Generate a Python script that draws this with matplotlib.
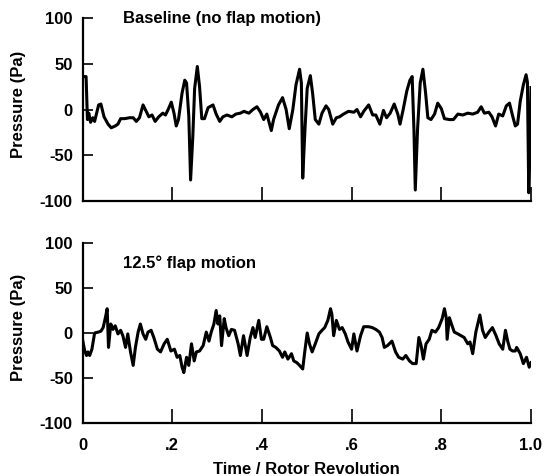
import matplotlib
matplotlib.use("Agg")
import matplotlib.pyplot as plt

plt.rcParams['font.family'] = ['Liberation Sans', 'DejaVu Sans']
plt.rcParams['font.weight'] = 'bold'

# ---- data ----
t_base = [0.0, 0.008, 0.011, 0.014, 0.018, 0.023, 0.027, 0.036, 0.041, 0.048, 0.057, 0.064,
          0.073, 0.079, 0.085, 0.094, 0.105, 0.113, 0.120, 0.127, 0.135, 0.142, 0.148, 0.155,
          0.162, 0.170, 0.179, 0.185, 0.191, 0.198, 0.204, 0.209, 0.214, 0.222, 0.228, 0.232,
          0.237, 0.241, 0.246, 0.250, 0.256, 0.261, 0.266, 0.272, 0.280, 0.291, 0.298, 0.306,
          0.313, 0.322, 0.333, 0.342, 0.352, 0.360, 0.371, 0.380, 0.389, 0.397, 0.404, 0.411,
          0.421, 0.426, 0.437, 0.446, 0.454, 0.461, 0.469, 0.476, 0.484, 0.488, 0.491, 0.496,
          0.501, 0.508, 0.513, 0.519, 0.527, 0.534, 0.543, 0.549, 0.558, 0.566, 0.573, 0.582,
          0.593, 0.605, 0.612, 0.620, 0.627, 0.638, 0.647, 0.654, 0.663, 0.671, 0.678, 0.686,
          0.695, 0.703, 0.708, 0.715, 0.723, 0.730, 0.735, 0.739, 0.742, 0.747, 0.753, 0.759,
          0.765, 0.770, 0.777, 0.785, 0.792, 0.800, 0.807, 0.818, 0.827, 0.837, 0.848, 0.859,
          0.870, 0.881, 0.889, 0.896, 0.906, 0.913, 0.921, 0.928, 0.937, 0.945, 0.952, 0.959,
          0.965, 0.970, 0.976, 0.983, 0.989, 0.992, 0.995, 0.998, 1.0]
p_base = [36, 36, -11, -4, -14, -9, -13, 5, 6, -8, -16, -20,
          -18, -16, -10, -10, -9, -9, -13, -9, 5, -2, -8, -6,
          -13, -8, -4, -6, 0, 8, -4, -18, -11, 18, 32, 29,
          -7, -77, -29, 23, 47, 25, -10, -10, 2, 5, -5, -13,
          -8, -6, -8, -5, -4, -2, -4, 0, 3, -3, -11, -5,
          -23, -11, 5, 13, 0, -21, 0, 27, 44, 29, -75, -22,
          23, 37, 18, -11, -16, -4, 4, 0, -16, -9, -8, -5,
          -2, -3, 0, -8, -2, 5, -6, -6, -16, -1, -9, -4,
          6, -5, -16, 0, 20, 32, 36, -22, -88, -22, 29, 44,
          18, -9, -11, -5, 7, 1, -10, -11, -11, -5, -6, -4,
          -5, -3, 3, -4, -3, -8, -18, -5, -7, 4, 7, -7,
          -18, -16, 9, 27, 38, 30, -91, -40, 24]

t_flap = [0.0, 0.005, 0.009, 0.012, 0.016, 0.021, 0.027, 0.035, 0.041, 0.046, 0.051, 0.055,
          0.058, 0.063, 0.068, 0.073, 0.079, 0.085, 0.090, 0.096, 0.101, 0.107, 0.113, 0.118,
          0.124, 0.129, 0.135, 0.141, 0.146, 0.153, 0.159, 0.167, 0.174, 0.182, 0.189, 0.197,
          0.205, 0.211, 0.217, 0.222, 0.226, 0.232, 0.237, 0.243, 0.249, 0.254, 0.261, 0.269,
          0.276, 0.282, 0.287, 0.293, 0.298, 0.302, 0.306, 0.310, 0.316, 0.320, 0.326, 0.332,
          0.339, 0.347, 0.352, 0.359, 0.367, 0.374, 0.380, 0.385, 0.393, 0.399, 0.404, 0.411,
          0.419, 0.424, 0.431, 0.439, 0.446, 0.451, 0.458, 0.466, 0.471, 0.478, 0.484, 0.491,
          0.495, 0.501, 0.506, 0.512, 0.519, 0.527, 0.534, 0.540, 0.547, 0.553, 0.556, 0.560,
          0.566, 0.573, 0.579, 0.586, 0.592, 0.600, 0.605, 0.612, 0.620, 0.627, 0.638, 0.646,
          0.654, 0.662, 0.668, 0.673, 0.680, 0.690, 0.698, 0.705, 0.714, 0.721, 0.729, 0.736,
          0.744, 0.750, 0.755, 0.760, 0.766, 0.773, 0.779, 0.787, 0.794, 0.802, 0.807, 0.811,
          0.813, 0.818, 0.824, 0.829, 0.837, 0.844, 0.851, 0.859, 0.864, 0.870, 0.877, 0.886,
          0.892, 0.898, 0.906, 0.914, 0.922, 0.929, 0.937, 0.943, 0.948, 0.953, 0.959, 0.965,
          0.968, 0.976, 0.983, 0.990, 0.996, 1.0]
p_flap = [-7, -20, -25, -21, -25, -18, 0, 1, 2, 6, 17, 27,
          -16, 10, 4, 8, -1, 3, -3, -16, -1, -21, -36, -16,
          1, 10, -1, -7, 1, 3, -5, -18, -21, -12, -7, -20,
          -18, -27, -25, -38, -44, -27, -36, -12, -31, -21, -20, -14,
          1, -9, 1, 10, 25, 10, 19, -14, 16, 6, -3, 4,
          3, -12, -25, -3, -25, -5, 6, -5, 14, -7, -7, 7,
          -5, -14, -16, -20, -27, -21, -29, -23, -31, -33, -36, -40,
          -23, 0, -12, -21, -12, -1, 3, 6, 14, 27, 21, -3,
          14, 4, 6, -1, -10, -18, -1, -20, -3, 7, 7, 6,
          4, 1, -5, -16, -14, -9, -21, -27, -29, -25, -31, -34,
          -34, -5, -14, -29, -12, -7, 3, 1, 6, 16, 27, 17,
          -7, 17, 8, 1, -1, -3, -5, -12, -10, -23, 1, 20,
          3, -5, 1, 6, -3, -12, -18, 3, -9, -18, -20, -20,
          -16, -23, -34, -27, -38, -33]

y_ticks = [-100, -50, 0, 50, 100]
y_ticklabels = ['-100', '-50', '0', '50', '100']
x_ticks = [0, 0.2, 0.4, 0.6, 0.8, 1.0]
x_ticklabels = ['0', '.2', '.4', '.6', '.8', '1.0']

W, H = 544, 476
fig = plt.figure(figsize=(W / 100, H / 100), dpi=100)

def px_axes(left, right, top, bottom):
    return fig.add_axes([left / W, 1 - bottom / H, (right - left) / W, (bottom - top) / H])

ax1 = px_axes(82.5, 531, 18, 201)
ax2 = px_axes(82.5, 531, 243, 423)

panels = [(ax1, t_base, p_base, 'Baseline (no flap motion)', 100),
          (ax2, t_flap, p_flap, '12.5\u00b0 flap motion', 78)]

for ax, t, p, title, ty in panels:
    ax.plot(t, p, color='black', lw=2.2, solid_joinstyle='round')
    ax.set_xlim(0, 1.0)
    ax.set_ylim(-100, 100)
    for s in ['top', 'right']:
        ax.spines[s].set_visible(False)
    for s in ['left', 'bottom']:
        ax.spines[s].set_linewidth(1.6)
    ax.set_yticks(y_ticks)
    ax.set_yticklabels(y_ticklabels, fontsize=12, fontweight='bold')
    ax.set_xticks(x_ticks)
    ax.tick_params(axis='y', direction='in', length=7, width=1.2, pad=7)
    ax.tick_params(axis='x', direction='in', length=10, width=1.2, pad=11)
    ax.set_ylabel('Pressure (Pa)', fontsize=12, fontweight='bold')
    ax.yaxis.set_label_coords(-0.125, 0.53)
    ax.text(0.09, ty, title, fontsize=12, fontweight='bold', va='center', ha='left')
    ax.patch.set_visible(False)

ax1.set_xticklabels([])
ax2.set_xticklabels(x_ticklabels, fontsize=12, fontweight='bold')
ax2.set_xlabel('Time / Rotor Revolution', fontsize=12, fontweight='bold', labelpad=6)

fig.savefig('out.png', dpi=100)
